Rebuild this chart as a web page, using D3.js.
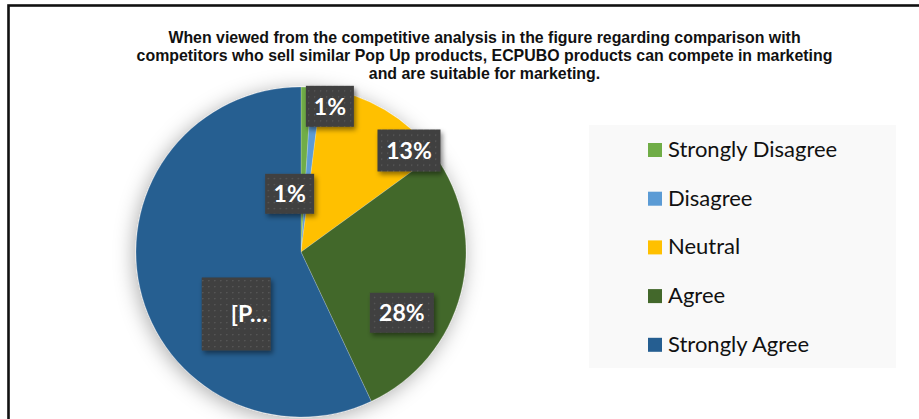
<!DOCTYPE html>
<html>
<head>
<meta charset="utf-8">
<script src="https://cdn.jsdelivr.net/npm/d3@7"></script>
<style>
  html, body { margin: 0; padding: 0; background: #fff; }
  svg { display: block; }
</style>
</head>
<body>
<svg id="chart" width="919" height="419"></svg>
<script>
// Survey answers, share of respondents (%)
const categories = ["Strongly Disagree", "Disagree", "Neutral", "Agree", "Strongly Agree"];
const values = [1, 1, 13, 28, 57];
const colors = ["#70AD47", "#5B9BD5", "#FFC000", "#43682B", "#255E91"];
// Data label text; the last one is the truncated placeholder shown in the chart
const labelTexts = values.map((v, i) => i === 4 ? "[P\u2026" : v + "%");
const titleLines = [
  "When viewed from the competitive analysis in the figure regarding comparison with",
  "competitors who sell similar Pop Up products, ECPUBO products can compete in marketing",
  "and are suitable for marketing."
];

// Label placement: nudge from the slice centroid and box size per label
const labelNudge = [[25, -22], [-23, 65], [45, 5], [-19, 30], [56, 35]];
const labelBox = [[48, 41], [49, 40], [63, 42], [64, 40], [69, 73]];

const svg = d3.select("#chart");
const defs = svg.append("defs");

// soft glow under the pie
const pieShadow = defs.append("filter").attr("id", "pieShadow")
  .attr("x", "-30%").attr("y", "-30%").attr("width", "160%").attr("height", "160%");
pieShadow.append("feDropShadow").attr("dx", -2).attr("dy", 3)
  .attr("stdDeviation", 10).attr("flood-color", "#000").attr("flood-opacity", 0.32);

// shadow under data label boxes
const boxShadow = defs.append("filter").attr("id", "boxShadow")
  .attr("x", "-30%").attr("y", "-30%").attr("width", "160%").attr("height", "160%");
boxShadow.append("feDropShadow").attr("dx", 2).attr("dy", 3)
  .attr("stdDeviation", 2.5).attr("flood-color", "#000").attr("flood-opacity", 0.45);

// dotted dark fill of label boxes
const dots = defs.append("pattern").attr("id", "dots")
  .attr("width", 6).attr("height", 6).attr("patternUnits", "userSpaceOnUse");
dots.append("rect").attr("width", 6).attr("height", 6).attr("fill", "#3f3f3f");
dots.append("rect").attr("x", 2).attr("y", 2).attr("width", 1.3).attr("height", 1.3).attr("fill", "#5c5c5c");

// frame (top and left edges visible)
svg.append("rect")
  .attr("x", 8.5).attr("y", 5.5).attr("width", 1000).attr("height", 1000)
  .attr("fill", "none").attr("stroke", "#111").attr("stroke-width", 2.6);

// title
svg.append("g")
  .selectAll("text").data(titleLines).join("text")
  .attr("x", 484.5)
  .attr("y", (d, i) => 42.5 + i * 18.4)
  .attr("text-anchor", "middle")
  .attr("font-family", "'Liberation Sans', Arial, sans-serif")
  .attr("font-weight", "bold")
  .attr("font-size", 15.9)
  .attr("fill", "#111")
  .text(d => d);

// pie
const cx = 301, cy = 252, R = 165;
const pie = d3.pie().sort(null).value(d => d)(values);
const arc = d3.arc().innerRadius(0).outerRadius(R);
const labelArc = d3.arc().innerRadius(R * 0.75).outerRadius(R * 0.75);

const g = svg.append("g").attr("transform", `translate(${cx},${cy})`);
g.append("g").attr("filter", "url(#pieShadow)")
  .selectAll("path").data(pie).join("path")
  .attr("d", arc)
  .attr("fill", (d, i) => colors[i])
  .attr("stroke", "#ffffff")
  .attr("stroke-opacity", 0.35)
  .attr("stroke-width", 0.6);

// data labels
const lab = g.append("g").selectAll("g").data(pie).join("g")
  .attr("transform", (d, i) => {
    const c = labelArc.centroid(d);
    return `translate(${c[0] + labelNudge[i][0]},${c[1] + labelNudge[i][1]})`;
  });
lab.append("rect")
  .attr("x", (d, i) => -labelBox[i][0] / 2)
  .attr("y", (d, i) => -labelBox[i][1] / 2)
  .attr("width", (d, i) => labelBox[i][0])
  .attr("height", (d, i) => labelBox[i][1])
  .attr("fill", "url(#dots)")
  .attr("filter", "url(#boxShadow)");
lab.append("text")
  .attr("x", (d, i) => i === 4 ? labelBox[i][0] / 2 - 3 : 0)
  .attr("y", 8.5)
  .attr("text-anchor", (d, i) => i === 4 ? "end" : "middle")
  .attr("font-family", "Lato, 'Open Sans', sans-serif")
  .attr("font-weight", "bold")
  .attr("font-size", 23)
  .attr("fill", "#fff")
  .text((d, i) => labelTexts[i]);

// legend
const legend = svg.append("g");
legend.append("rect")
  .attr("x", 589).attr("y", 125).attr("width", 307).attr("height", 243)
  .attr("fill", "#f9f9f9");
const item = legend.selectAll("g").data(categories).join("g")
  .attr("transform", (d, i) => `translate(648,${143 + i * 48.7})`);
item.append("rect").attr("width", 14).attr("height", 14)
  .attr("fill", (d, i) => colors[i]);
item.append("text")
  .attr("x", 20).attr("y", 14)
  .attr("font-family", "Lato, 'Open Sans', sans-serif")
  .attr("font-size", 22)
  .attr("fill", "#111")
  .text(d => d);
</script>
</body>
</html>
